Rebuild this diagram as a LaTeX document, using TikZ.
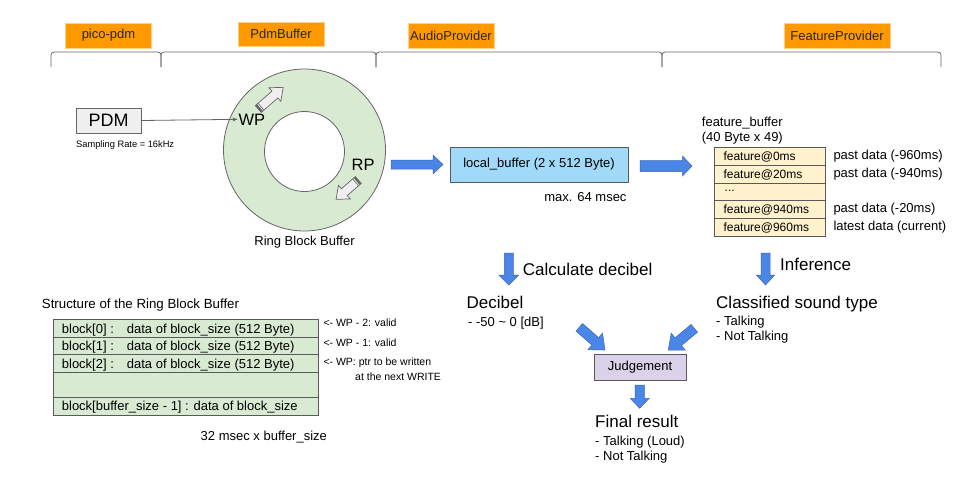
\documentclass[tikz,border=0pt]{standalone}
\usepackage{fontspec}
\setmainfont{Liberation Sans}
\usetikzlibrary{arrows.meta}
\definecolor{orangebox}{HTML}{FF9900}
\definecolor{orangeedge}{HTML}{FFD08A}
\definecolor{ringgreen}{HTML}{D9EAD3}
\definecolor{edgegray}{HTML}{595959}
\definecolor{bracketgray}{HTML}{666666}
\definecolor{lightblue}{HTML}{A0DAF8}
\definecolor{featfill}{HTML}{FFF2CC}
\definecolor{judgefill}{HTML}{D9D2E9}
\definecolor{pdmfill}{HTML}{EFEFEF}
\definecolor{bluearrow}{HTML}{4A86E8}
\definecolor{bluearrowedge}{HTML}{3C66B0}
\newcommand\blockarr[7]{%
  \begin{scope}[shift={(#1)},rotate=#2]
    \path[#7] (0,-#4) -- ({#3-#6},-#4) -- ({#3-#6},-#5) -- (#3,0) -- ({#3-#6},#5) -- ({#3-#6},#4) -- (0,#4) -- cycle;
  \end{scope}}
\newcommand\hollowarr[3]{%
  \begin{scope}[shift={(#1)},rotate=#2]
    \path[hollowstyle] (0,-4.5) -- ({#3-11},-4.5) -- ({#3-11},-9) -- (#3,0) -- ({#3-11},9) -- ({#3-11},4.5) -- (0,4.5) -- cycle;
    \fill[bracketgray] (0,-4.5) rectangle (2.2,4.5);
    \draw[bracketgray,line width=0.6pt] (3.6,-4.5) -- (3.6,4.5);
  \end{scope}}
\begin{document}
\begin{tikzpicture}[x=1pt,y=-1pt,
  txt/.style={inner sep=0pt, anchor=base west, text=black},
  s9/.style={font=\fontsize{9.3}{11}\selectfont},
  s10/.style={font=\fontsize{10.5}{12}\selectfont},
  s12/.style={font=\fontsize{12}{14}\selectfont},
  s13/.style={font=\fontsize{13}{15}\selectfont},
  s17/.style={font=\fontsize{17}{20}\selectfont},
  s18/.style={font=\fontsize{18}{21}\selectfont},
  tag/.style={fill=orangebox, draw=orangeedge, line width=0.6pt, inner sep=0pt, s13, text=black!85},
  bracket/.style={draw=bracketgray, line width=0.8pt, rounded corners=3pt},
  boxed/.style={draw=edgegray, line width=0.8pt, inner sep=0pt},
  bluestyle/.style={fill=bluearrow, draw=bluearrowedge, line width=0.5pt},
  hollowstyle/.style={fill=pdmfill, draw=bracketgray, line width=0.7pt}]
\useasboundingbox (0,0) rectangle (960,480);
\fill[white] (0,0) rectangle (960,480);

% ---- section tags ----
\node[tag, minimum width=86pt, minimum height=25pt] (tpico) at (108.5,35.5) {pico-pdm};
\node[tag, minimum width=86pt, minimum height=24pt] (tpdmbuf) at (281,34) {PdmBuffer};
\node[tag, minimum width=86pt, minimum height=25pt] (taudio) at (451,35.5) {AudioProvider};
\node[tag, minimum width=106pt, minimum height=25pt] (tfeat) at (837,35.5) {FeatureProvider};

% ---- brackets ----
\draw[bracket] (51,67) -- (51,52) -- (161,52) -- (161,67);
\draw[bracket] (161,67) -- (161,52) -- (376,52) -- (376,67);
\draw[bracket] (376,67) -- (376,52) -- (662,52) -- (662,67);
\draw[bracket] (662,67) -- (662,52) -- (941,52) -- (941,67);

% ---- PDM ----
\node[boxed, fill=pdmfill, draw=bracketgray, minimum width=65pt, minimum height=25pt, s18] (pdm) at (108.5,120.5) {PDM};
\node[txt, s9] (rate) at (76,147) {Sampling Rate = 16kHz};

% ---- ring ----
\draw[fill=ringgreen, draw=bracketgray, line width=0.8pt, even odd rule] (304.5,150) circle (81) (304.5,151.5) circle (40);
\node[txt, font=\fontsize{16.5}{19}\selectfont] (wp) at (238.3,125) {WP};
\node[txt, font=\fontsize{16.5}{19}\selectfont] (rp) at (351.5,170) {RP};
\node[inner sep=0pt, anchor=base, s13] (ringlbl) at (304.5,245.3) {Ring Block Buffer};
\draw[bracketgray, line width=0.8pt, -{Stealth[length=5pt,width=4pt]}, shorten >=0.8pt] (pdm.east) -- (wp.west);
\hollowarr{258.3,109}{41}{33}
\hollowarr{358.3,180}{-139}{29.5}

% ---- local buffer ----
\blockarr{391,164.5}{0}{52}{4.5}{9.5}{10}{bluestyle}
\node[boxed, fill=lightblue, minimum width=178pt, minimum height=35pt, s13] (local) at (539,164.5) {local\_buffer (2 x 512 Byte)};
\node[inner sep=0pt, anchor=base east, s13] (maxms) at (626.7,201.7) {max. 64 msec};
\blockarr{640,166}{0}{52}{5.5}{10}{9.5}{bluestyle}

% ---- feature buffer ----
\node[txt, s13] (fbuf) at (701.7,126.7) {feature\_buffer};
\node[txt, s13] (fbufsz) at (701.7,141.5) {(40 Byte x 49)};
\draw[boxed, fill=featfill] (714,147) rectangle (825,165);
\draw[boxed, fill=featfill] (714,165) rectangle (825,183);
\draw[boxed, fill=featfill] (714,183) rectangle (825,200.5);
\draw[boxed, fill=featfill] (714,200.5) rectangle (825,218);
\draw[boxed, fill=featfill] (714,218) rectangle (825,236);
\node[txt, s12] (f0) at (723.3,160.5) {feature@0ms};
\node[txt, s12] (f20) at (723.3,178.5) {feature@20ms};
\node[txt, s12] (fdots) at (724.5,191.5) {...};
\node[txt, s12] (f940) at (723.3,213.5) {feature@940ms};
\node[txt, s12] (f960) at (723.3,231.5) {feature@960ms};
\node[txt, s13] (p960) at (833.3,159.5) {past data (-960ms)};
\node[txt, s13] (p940) at (833.3,177) {past data (-940ms)};
\node[txt, s13] (p20) at (833.3,212.5) {past data (-20ms)};
\node[txt, s13] (plat) at (833.3,230) {latest data (current)};

% ---- decibel path ----
\blockarr{508.8,253}{-90}{32}{4.5}{10}{10}{bluestyle}
\node[txt, s17] (calc) at (522.7,275) {Calculate decibel};
\node[txt, s17] (dec) at (466.5,308.3) {Decibel};
\node[txt, s13] (decr) at (468,326.7) {- -50 \textasciitilde\ 0 [dB]};

% ---- inference path ----
\blockarr{765.5,253}{-90}{32}{4.5}{9.2}{10}{bluestyle}
\node[txt, s17] (inf) at (780,270.7) {Inference};
\node[txt, s17] (cls) at (716,308.3) {Classified sound type};
\node[txt, s13] (clst) at (716,325) {- Talking};
\node[txt, s13] (clsn) at (716,340.7) {- Not Talking};

% ---- judgement ----
\blockarr{579.3,327.3}{-41.5}{34.3}{5}{11}{13}{bluestyle}
\blockarr{694.3,328.3}{-140.2}{33.9}{5}{11}{13}{bluestyle}
\node[boxed, fill=judgefill, minimum width=92pt, minimum height=26pt, s13] (judge) at (640,367) {Judgement};
\blockarr{639.7,385}{-90}{23.3}{4.6}{9.5}{10}{bluestyle}
\node[txt, s17] (final) at (595,427.7) {Final result};
\node[txt, s13] (fl) at (595,445) {- Talking (Loud)};
\node[txt, s13] (fn) at (595,460.7) {- Not Talking};

% ---- structure of ring block buffer ----
\node[txt, font=\fontsize{13.3}{16}\selectfont] (stitle) at (41.7,308.3) {Structure of the Ring Block Buffer};
\draw[boxed, fill=ringgreen] (53,319) rectangle (318,337);
\draw[boxed, fill=ringgreen] (53,337) rectangle (318,354.5);
\draw[boxed, fill=ringgreen] (53,354.5) rectangle (318,372);
\draw[boxed, fill=ringgreen] (53,372) rectangle (318,397);
\draw[boxed, fill=ringgreen] (53,397) rectangle (318,415.5);
\node[txt, s13] (b0) at (61.7,333.3) {\makebox[65pt][l]{block[0] :}data of block\_size (512 Byte)};
\node[txt, s13] (b1) at (61.7,350.3) {\makebox[65pt][l]{block[1] :}data of block\_size (512 Byte)};
\node[txt, s13] (b2) at (61.7,368) {\makebox[65pt][l]{block[2] :}data of block\_size (512 Byte)};
\node[txt, s13] (bn) at (61.7,410.3) {block[buffer\_size - 1] : data of block\_size};
\node[txt, s10] (n0) at (323.3,326.7) {<- WP - 2: valid};
\node[txt, s10] (n1) at (323.3,346) {<- WP - 1: valid};
\node[txt, s10] (n2) at (323.3,365) {<- WP: ptr to be written};
\node[txt, s10] (n3) at (355,380) {at the next WRITE};
\node[txt, s13] (msx) at (200.5,440.5) {32 msec x buffer\_size};
\end{tikzpicture}
\end{document}
